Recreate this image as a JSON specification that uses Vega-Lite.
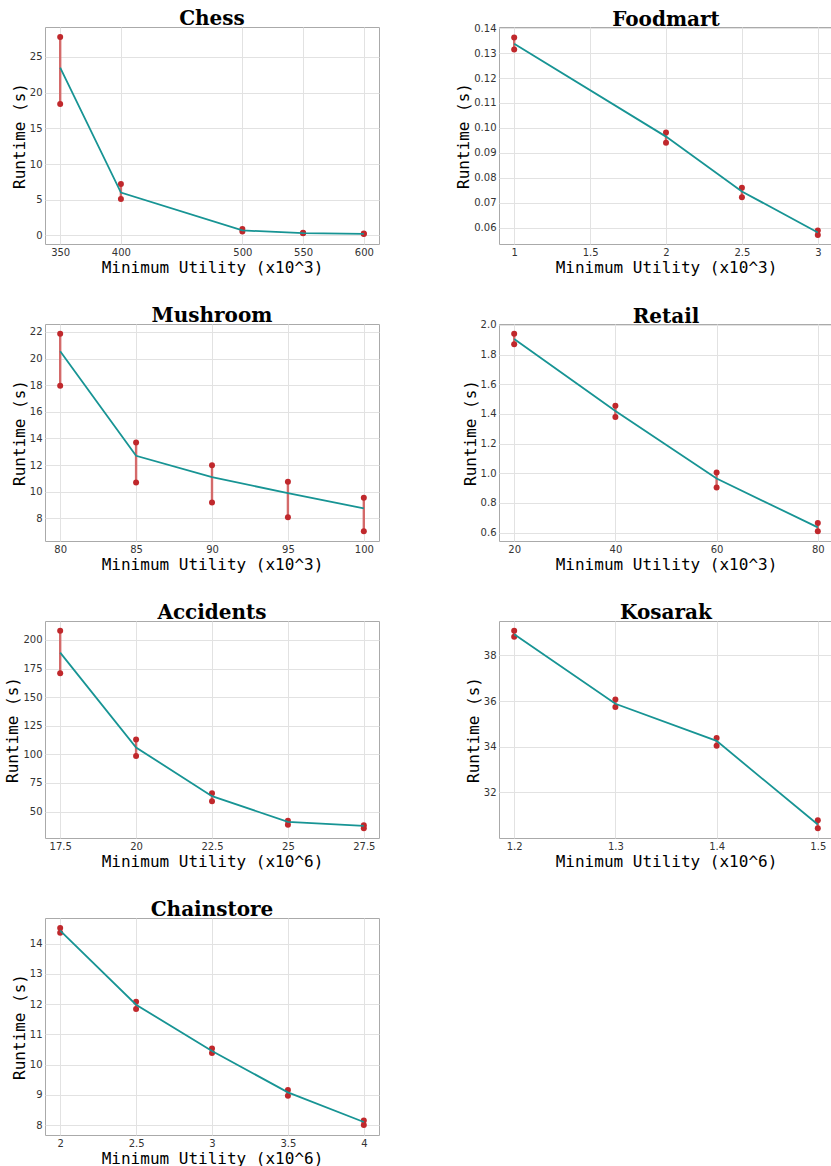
{
  "$schema": "https://vega.github.io/schema/vega-lite/v6.json",
  "background": "white",
  "padding": {"left": 4, "top": 8, "right": 0, "bottom": 0},
  "columns": 2,
  "bounds": "flush",
  "spacing": {"row": 80, "column": 120},
  "datasets": {
    "runs": [
      {"dataset": "Chess", "minutil": 350, "low": 18.4, "high": 27.8, "mean": 23.5},
      {"dataset": "Chess", "minutil": 400, "low": 5.1, "high": 7.2, "mean": 6.0},
      {"dataset": "Chess", "minutil": 500, "low": 0.55, "high": 0.9, "mean": 0.7},
      {"dataset": "Chess", "minutil": 550, "low": 0.3, "high": 0.38, "mean": 0.33},
      {"dataset": "Chess", "minutil": 600, "low": 0.2, "high": 0.27, "mean": 0.23},
      {"dataset": "Foodmart", "minutil": 1, "low": 0.1315, "high": 0.1363, "mean": 0.1338},
      {"dataset": "Foodmart", "minutil": 2, "low": 0.094, "high": 0.0982, "mean": 0.0965},
      {"dataset": "Foodmart", "minutil": 2.5, "low": 0.0722, "high": 0.076, "mean": 0.0745},
      {"dataset": "Foodmart", "minutil": 3, "low": 0.057, "high": 0.0588, "mean": 0.058},
      {"dataset": "Mushroom", "minutil": 80, "low": 17.95, "high": 21.85, "mean": 20.55},
      {"dataset": "Mushroom", "minutil": 85, "low": 10.7, "high": 13.7, "mean": 12.7},
      {"dataset": "Mushroom", "minutil": 90, "low": 9.2, "high": 12.0, "mean": 11.1},
      {"dataset": "Mushroom", "minutil": 95, "low": 8.1, "high": 10.75, "mean": 9.9},
      {"dataset": "Mushroom", "minutil": 100, "low": 7.05, "high": 9.55, "mean": 8.75},
      {"dataset": "Retail", "minutil": 20, "low": 1.87, "high": 1.94, "mean": 1.905},
      {"dataset": "Retail", "minutil": 40, "low": 1.38, "high": 1.455, "mean": 1.42},
      {"dataset": "Retail", "minutil": 60, "low": 0.905, "high": 1.005, "mean": 0.965},
      {"dataset": "Retail", "minutil": 80, "low": 0.61, "high": 0.665, "mean": 0.635},
      {"dataset": "Accidents", "minutil": 17.5, "low": 171, "high": 208, "mean": 189},
      {"dataset": "Accidents", "minutil": 20, "low": 98.5, "high": 113, "mean": 106},
      {"dataset": "Accidents", "minutil": 22.5, "low": 59, "high": 66, "mean": 63.5},
      {"dataset": "Accidents", "minutil": 25, "low": 38.5, "high": 42, "mean": 41},
      {"dataset": "Accidents", "minutil": 27.5, "low": 35.5, "high": 38, "mean": 37.5},
      {"dataset": "Kosarak", "minutil": 1.2, "low": 38.82, "high": 39.08, "mean": 38.93},
      {"dataset": "Kosarak", "minutil": 1.3, "low": 35.74, "high": 36.07, "mean": 35.88},
      {"dataset": "Kosarak", "minutil": 1.4, "low": 34.04, "high": 34.38, "mean": 34.25},
      {"dataset": "Kosarak", "minutil": 1.5, "low": 30.42, "high": 30.77, "mean": 30.58},
      {"dataset": "Chainstore", "minutil": 2, "low": 14.36, "high": 14.52, "mean": 14.43},
      {"dataset": "Chainstore", "minutil": 2.5, "low": 11.84, "high": 12.08, "mean": 11.98},
      {"dataset": "Chainstore", "minutil": 3, "low": 10.38, "high": 10.53, "mean": 10.45},
      {"dataset": "Chainstore", "minutil": 3.5, "low": 8.97, "high": 9.16, "mean": 9.08},
      {"dataset": "Chainstore", "minutil": 4, "low": 8.0, "high": 8.15, "mean": 8.1}
    ]
  },
  "config": {
    "view": {"stroke": "#aaaaaa", "strokeWidth": 1},
    "title": {"font": "DejaVu Serif", "fontSize": 20, "fontWeight": "bold", "color": "black", "offset": -2, "frame": "group", "anchor": "middle"},
    "axis": {
      "labelFont": "DejaVu Sans",
      "labelFontSize": 10,
      "labelColor": "#333333",
      "titleFont": "DejaVu Sans Mono",
      "titleFontSize": 16,
      "titleFontWeight": "normal",
      "titleColor": "black",
      "ticks": false,
      "domain": false,
      "grid": true,
      "gridColor": "#e2e2e2",
      "gridWidth": 1,
      "labelPadding": 3,
      "titlePadding": 2,
      "labelFlush": false,
      "labelOverlap": false,
      "labelSeparation": 0
    }
  },
  "concat": [
    {
      "width": 334, "height": 217,
      "title": "Chess",
      "data": {"name": "runs"},
      "transform": [{"filter": "datum.dataset === 'Chess'"}],
      "encoding": {
        "x": {"field": "minutil", "type": "quantitative", "title": "Minimum Utility (x10^3)",
              "scale": {"domain": [337.5, 612.5], "nice": false, "zero": false},
              "axis": {"values": [350, 400, 500, 550, 600], "format": ".6~g", "labelOverlap": false}},
        "y": {"field": "low", "type": "quantitative", "title": "Runtime (s)", "scale": {"domain": [-1.2, 29.2], "nice": false, "zero": false}, "axis": {"values": [0, 5, 10, 15, 20, 25], "format": ".6~g", "labelOverlap": false}}
      },
      "layer": [
        {"mark": {"type": "rule", "color": "#d46a6a", "strokeWidth": 2.4},
         "encoding": {"y2": {"field": "high"}}},
        {"mark": {"type": "circle", "color": "#c0282c", "size": 36, "opacity": 1}},
        {"mark": {"type": "circle", "color": "#c0282c", "size": 36, "opacity": 1},
         "encoding": {"y": {"field": "high", "type": "quantitative"}}},
        {"mark": {"type": "line", "color": "#179494", "strokeWidth": 1.8},
         "encoding": {"y": {"field": "mean", "type": "quantitative"}}}
      ]
    },
    {
      "width": 334, "height": 217,
      "title": {"text": "Foodmart", "offset": -7},
      "data": {"name": "runs"},
      "transform": [{"filter": "datum.dataset === 'Foodmart'"}],
      "encoding": {
        "x": {"field": "minutil", "type": "quantitative", "title": "Minimum Utility (x10^3)",
              "scale": {"domain": [0.9, 3.1], "nice": false, "zero": false},
              "axis": {"values": [1, 1.5, 2, 2.5, 3], "format": ".6~g", "labelOverlap": false}},
        "y": {"field": "low", "type": "quantitative", "title": "Runtime (s)", "scale": {"domain": [0.0534, 0.1405], "nice": false, "zero": false}, "axis": {"values": [0.06, 0.07, 0.08, 0.09, 0.10, 0.11, 0.12, 0.13, 0.14], "format": ".2f", "labelOverlap": false}}
      },
      "layer": [
        {"mark": {"type": "rule", "color": "#d46a6a", "strokeWidth": 2.4},
         "encoding": {"y2": {"field": "high"}}},
        {"mark": {"type": "circle", "color": "#c0282c", "size": 36, "opacity": 1}},
        {"mark": {"type": "circle", "color": "#c0282c", "size": 36, "opacity": 1},
         "encoding": {"y": {"field": "high", "type": "quantitative"}}},
        {"mark": {"type": "line", "color": "#179494", "strokeWidth": 1.8},
         "encoding": {"y": {"field": "mean", "type": "quantitative"}}}
      ]
    },
    {
      "width": 334, "height": 217,
      "title": "Mushroom",
      "data": {"name": "runs"},
      "transform": [{"filter": "datum.dataset === 'Mushroom'"}],
      "encoding": {
        "x": {"field": "minutil", "type": "quantitative", "title": "Minimum Utility (x10^3)",
              "scale": {"domain": [79, 101], "nice": false, "zero": false},
              "axis": {"values": [80, 85, 90, 95, 100], "format": ".6~g", "labelOverlap": false}},
        "y": {"field": "low", "type": "quantitative", "title": "Runtime (s)", "scale": {"domain": [6.31, 22.59], "nice": false, "zero": false}, "axis": {"values": [8, 10, 12, 14, 16, 18, 20, 22], "format": ".6~g", "labelOverlap": false}}
      },
      "layer": [
        {"mark": {"type": "rule", "color": "#d46a6a", "strokeWidth": 2.4},
         "encoding": {"y2": {"field": "high"}}},
        {"mark": {"type": "circle", "color": "#c0282c", "size": 36, "opacity": 1}},
        {"mark": {"type": "circle", "color": "#c0282c", "size": 36, "opacity": 1},
         "encoding": {"y": {"field": "high", "type": "quantitative"}}},
        {"mark": {"type": "line", "color": "#179494", "strokeWidth": 1.8},
         "encoding": {"y": {"field": "mean", "type": "quantitative"}}}
      ]
    },
    {
      "width": 334, "height": 217,
      "title": {"text": "Retail", "offset": -7},
      "data": {"name": "runs"},
      "transform": [{"filter": "datum.dataset === 'Retail'"}],
      "encoding": {
        "x": {"field": "minutil", "type": "quantitative", "title": "Minimum Utility (x10^3)",
              "scale": {"domain": [17, 83], "nice": false, "zero": false},
              "axis": {"values": [20, 40, 60, 80], "format": ".6~g", "labelOverlap": false}},
        "y": {"field": "low", "type": "quantitative", "title": "Runtime (s)", "scale": {"domain": [0.5435, 2.0065], "nice": false, "zero": false}, "axis": {"values": [0.6, 0.8, 1.0, 1.2, 1.4, 1.6, 1.8, 2.0], "format": ".1f", "labelOverlap": false}}
      },
      "layer": [
        {"mark": {"type": "rule", "color": "#d46a6a", "strokeWidth": 2.4},
         "encoding": {"y2": {"field": "high"}}},
        {"mark": {"type": "circle", "color": "#c0282c", "size": 36, "opacity": 1}},
        {"mark": {"type": "circle", "color": "#c0282c", "size": 36, "opacity": 1},
         "encoding": {"y": {"field": "high", "type": "quantitative"}}},
        {"mark": {"type": "line", "color": "#179494", "strokeWidth": 1.8},
         "encoding": {"y": {"field": "mean", "type": "quantitative"}}}
      ]
    },
    {
      "width": 334, "height": 217,
      "title": "Accidents",
      "data": {"name": "runs"},
      "transform": [{"filter": "datum.dataset === 'Accidents'"}],
      "encoding": {
        "x": {"field": "minutil", "type": "quantitative", "title": "Minimum Utility (x10^6)",
              "scale": {"domain": [17, 28], "nice": false, "zero": false},
              "axis": {"values": [17.5, 20, 22.5, 25, 27.5], "format": ".6~g", "labelOverlap": false}},
        "y": {"field": "low", "type": "quantitative", "title": "Runtime (s)", "scale": {"domain": [26.9, 216.6], "nice": false, "zero": false}, "axis": {"values": [50, 75, 100, 125, 150, 175, 200], "format": ".6~g", "labelOverlap": false}}
      },
      "layer": [
        {"mark": {"type": "rule", "color": "#d46a6a", "strokeWidth": 2.4},
         "encoding": {"y2": {"field": "high"}}},
        {"mark": {"type": "circle", "color": "#c0282c", "size": 36, "opacity": 1}},
        {"mark": {"type": "circle", "color": "#c0282c", "size": 36, "opacity": 1},
         "encoding": {"y": {"field": "high", "type": "quantitative"}}},
        {"mark": {"type": "line", "color": "#179494", "strokeWidth": 1.8},
         "encoding": {"y": {"field": "mean", "type": "quantitative"}}}
      ]
    },
    {
      "width": 334, "height": 217,
      "title": "Kosarak",
      "data": {"name": "runs"},
      "transform": [{"filter": "datum.dataset === 'Kosarak'"}],
      "encoding": {
        "x": {"field": "minutil", "type": "quantitative", "title": "Minimum Utility (x10^6)",
              "scale": {"domain": [1.185, 1.515], "nice": false, "zero": false},
              "axis": {"values": [1.2, 1.3, 1.4, 1.5], "format": ".1f", "labelOverlap": false}},
        "y": {"field": "low", "type": "quantitative", "title": "Runtime (s)", "scale": {"domain": [29.99, 39.51], "nice": false, "zero": false}, "axis": {"values": [32, 34, 36, 38], "format": ".6~g", "labelOverlap": false}}
      },
      "layer": [
        {"mark": {"type": "rule", "color": "#d46a6a", "strokeWidth": 2.4},
         "encoding": {"y2": {"field": "high"}}},
        {"mark": {"type": "circle", "color": "#c0282c", "size": 36, "opacity": 1}},
        {"mark": {"type": "circle", "color": "#c0282c", "size": 36, "opacity": 1},
         "encoding": {"y": {"field": "high", "type": "quantitative"}}},
        {"mark": {"type": "line", "color": "#179494", "strokeWidth": 1.8},
         "encoding": {"y": {"field": "mean", "type": "quantitative"}}}
      ]
    },
    {
      "width": 334, "height": 217,
      "title": "Chainstore",
      "data": {"name": "runs"},
      "transform": [{"filter": "datum.dataset === 'Chainstore'"}],
      "encoding": {
        "x": {"field": "minutil", "type": "quantitative", "title": "Minimum Utility (x10^6)",
              "scale": {"domain": [1.9, 4.1], "nice": false, "zero": false},
              "axis": {"values": [2, 2.5, 3, 3.5, 4], "format": ".6~g", "labelOverlap": false}},
        "y": {"field": "low", "type": "quantitative", "title": "Runtime (s)", "scale": {"domain": [7.67, 14.85], "nice": false, "zero": false}, "axis": {"values": [8, 9, 10, 11, 12, 13, 14], "format": ".6~g", "labelOverlap": false}}
      },
      "layer": [
        {"mark": {"type": "rule", "color": "#d46a6a", "strokeWidth": 2.4},
         "encoding": {"y2": {"field": "high"}}},
        {"mark": {"type": "circle", "color": "#c0282c", "size": 36, "opacity": 1}},
        {"mark": {"type": "circle", "color": "#c0282c", "size": 36, "opacity": 1},
         "encoding": {"y": {"field": "high", "type": "quantitative"}}},
        {"mark": {"type": "line", "color": "#179494", "strokeWidth": 1.8},
         "encoding": {"y": {"field": "mean", "type": "quantitative"}}}
      ]
    }
  ]
}
